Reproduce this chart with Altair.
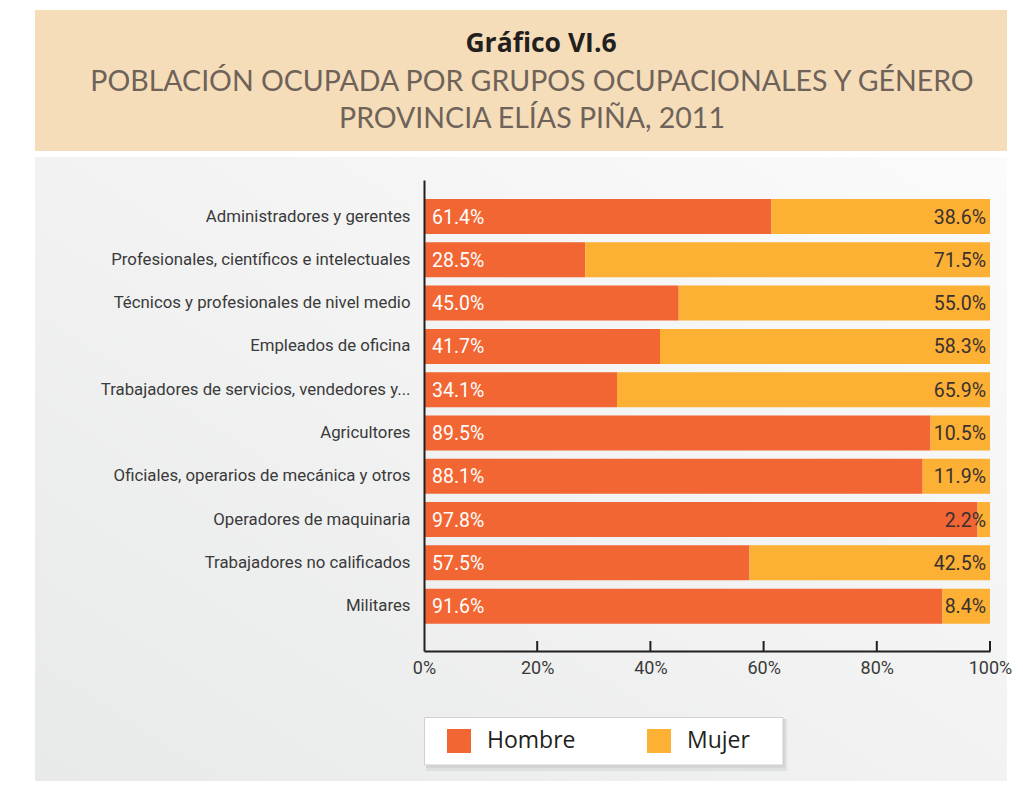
import altair as alt
import pandas as pd

categories = [
    "Administradores y gerentes",
    "Profesionales, científicos e intelectuales",
    "Técnicos y profesionales de nivel medio",
    "Empleados de oficina",
    "Trabajadores de servicios, vendedores y...",
    "Agricultores",
    "Oficiales, operarios de mecánica y otros",
    "Operadores de maquinaria",
    "Trabajadores no calificados",
    "Militares",
]
hombre = [61.4, 28.5, 45.0, 41.7, 34.1, 89.5, 88.1, 97.8, 57.5, 91.6]
mujer = [38.6, 71.5, 55.0, 58.3, 65.9, 10.5, 11.9, 2.2, 42.5, 8.4]
series = ["Hombre", "Mujer"]
colors = ["#f26634", "#fcb034"]
tick_values = [0, 20, 40, 60, 80, 100]

title_text = "Gráfico VI.6"
subtitle_1 = "POBLACIÓN OCUPADA POR GRUPOS OCUPACIONALES Y GÉNERO"
subtitle_2 = "PROVINCIA ELÍAS PIÑA, 2011"

W, H = 566, 471
COND = "Liberation Sans Narrow, Roboto, sans-serif"

rows = []
for c, h, m in zip(categories, hombre, mujer):
    rows.append({"cat": c, "serie": "Hombre", "val": h, "ord": 0})
    rows.append({"cat": c, "serie": "Mujer", "val": m, "ord": 1})
long_df = pd.DataFrame(rows)
wide_df = pd.DataFrame({"cat": categories, "hombre": hombre, "mujer": mujer})
wide_df["hlab"] = [f"{v:.1f}%" for v in hombre]
wide_df["mlab"] = [f"{v:.1f}%" for v in mujer]

one = alt.Data(values=[{"a": 1}])

y_enc = alt.Y(
    "cat:N",
    sort=categories,
    title=None,
    scale=alt.Scale(paddingInner=0.19, paddingOuter=0.535, align=0.41),
    axis=alt.Axis(
        domain=True, domainColor="#231f20", domainWidth=2, ticks=False,
        labelPadding=14, labelFontSize=16.8, labelFont=COND, labelColor="#3a3a3a",
        labelLimit=400, grid=False, zindex=1,
    ),
)
x_scale = alt.Scale(domain=[0, 100], nice=False)
x_axis = alt.Axis(
    values=tick_values, labelExpr="datum.value + '%'", domain=True,
    domainColor="#231f20", domainWidth=2, ticks=False, labelPadding=8,
    labelFontSize=18, labelFont=COND, labelColor="#3a3a3a", grid=False,
    labelFlush=False, labelOverlap=False, labelBound=False, zindex=1,
)

header = alt.Chart(one).mark_rect(fill="#f5ddb9").encode(
    x=alt.value(-389), x2=alt.value(583), y=alt.value(-170), y2=alt.value(-29)
)
panel = alt.Chart(one).mark_rect(
    fill=alt.Gradient(
        gradient="linear",
        stops=[alt.GradientStop(color="#fbfbfb", offset=0),
               alt.GradientStop(color="#e8e9e9", offset=1)],
        x1=1, y1=0, x2=0, y2=1,
    )
).encode(x=alt.value(-389), x2=alt.value(583), y=alt.value(-23), y2=alt.value(601))

shadow1 = alt.Chart(one).mark_rect(fill="#d4d5d5", opacity=0.6).encode(
    x=alt.value(2), x2=alt.value(363), y=alt.value(539), y2=alt.value(591)
)
shadow2 = alt.Chart(one).mark_rect(fill="#cfd0d0", opacity=0.7).encode(
    x=alt.value(2), x2=alt.value(361), y=alt.value(539), y2=alt.value(588)
)
legend_box = alt.Chart(one).mark_rect(
    fill="white", stroke="#d0d0d0", strokeWidth=1
).encode(x=alt.value(0.5), x2=alt.value(359), y=alt.value(537.5), y2=alt.value(585))

bars = alt.Chart(long_df).mark_bar(size=35).encode(
    y=y_enc,
    x=alt.X("val:Q", stack="zero", scale=x_scale, axis=x_axis, title=None),
    color=alt.Color(
        "serie:N",
        scale=alt.Scale(domain=series, range=colors),
        legend=alt.Legend(
            title=None, orient="none", legendX=0, legendY=537,
            direction="horizontal",
            padding=12, symbolType="square", symbolSize=576, symbolStrokeWidth=0,
            symbolOpacity=1, symbolOffset=11, labelFontSize=23,
            labelFont="Open Sans, sans-serif", labelColor="#231f20",
            labelOffset=16, columnPadding=60,
        ),
    ),
    order=alt.Order("ord:Q"),
)

hlabels = alt.Chart(wide_df).mark_text(
    align="left", baseline="middle", dx=8, dy=1, color="white",
    fontSize=19.5, font=COND,
).encode(y=alt.Y("cat:N", sort=categories), x=alt.datum(0), text="hlab:N")

mlabels = alt.Chart(wide_df).mark_text(
    align="right", baseline="middle", dx=-4, dy=1, color="#3a3030",
    fontSize=19.5, font=COND,
).encode(y=alt.Y("cat:N", sort=categories), x=alt.datum(100), text="mlab:N")

ticks_df = pd.DataFrame({"t": tick_values[1:]})
ticks = alt.Chart(ticks_df).mark_rule(color="#231f20", strokeWidth=2).encode(
    x=alt.X("t:Q", scale=x_scale), y=alt.value(H - 10), y2=alt.value(H)
)

t1 = alt.Chart(one).mark_text(
    text=title_text, font="Open Sans, sans-serif", fontWeight="bold",
    fontSize=26.5, color="#231f20", align="center", baseline="alphabetic",
).encode(x=alt.value(117), y=alt.value(-128))
t2 = alt.Chart(one).mark_text(
    text=subtitle_1, font="Lato, sans-serif", fontSize=28.5,
    color="#6e6259", align="center", baseline="alphabetic",
).encode(x=alt.value(108), y=alt.value(-89))
t3 = alt.Chart(one).mark_text(
    text=subtitle_2, font="Lato, sans-serif", fontSize=28.5,
    color="#6e6259", align="center", baseline="alphabetic",
).encode(x=alt.value(108), y=alt.value(-52))

chart = alt.layer(
    header, panel, shadow1, shadow2, legend_box, bars, hlabels, mlabels, ticks,
    t1, t2, t3
).properties(
    width=W, height=H,
    autosize=alt.AutoSizeParams(type="none"),
    padding={"left": 416, "top": 172, "right": 25, "bottom": 138},
    background="white",
).configure_view(stroke=None)

chart.save("out.html", embed_options={"renderer": "svg", "actions": False})
